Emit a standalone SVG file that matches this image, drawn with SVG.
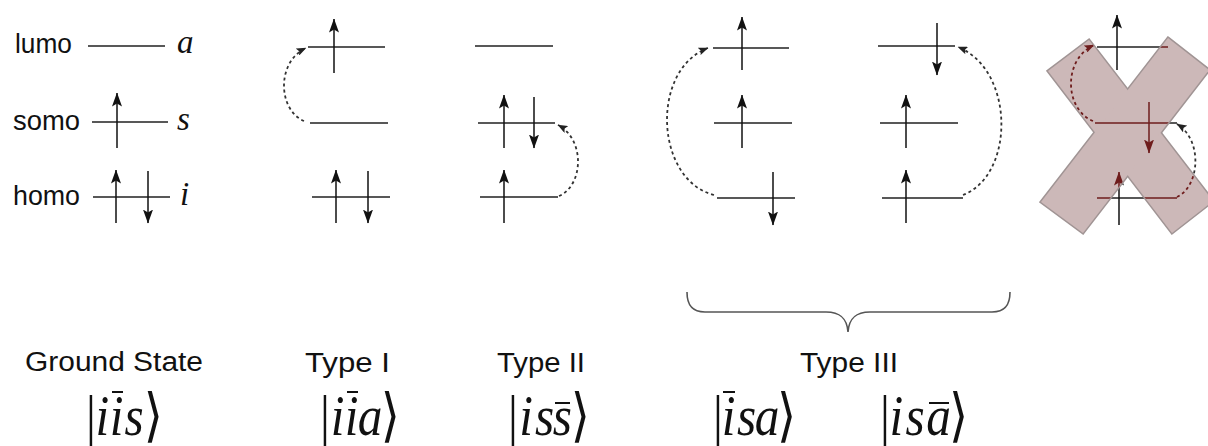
<svg xmlns="http://www.w3.org/2000/svg" width="1208" height="446" viewBox="0 0 1208 446">
<style>
.lvl{stroke:#222;stroke-width:1.4;fill:none}
.spin{stroke:#111;stroke-width:1.5;fill:none;marker-end:url(#ah)}
.hop{stroke:#333;stroke-width:1.8;stroke-dasharray:3 3;fill:none;marker-end:url(#dh)}
.mar .lvl{stroke:#6e1c1c}
.mar .spin{stroke:#6e1c1c;marker-end:url(#ahm)}
.mar .hop{stroke:#6e1c1c;marker-end:url(#dhm)}
.lab{font-family:"Liberation Sans",Arial,sans-serif;font-size:27px;fill:#111}
.orb{font-family:"Liberation Serif","Times New Roman",serif;font-style:italic;font-size:33px;fill:#111}
.ket{font-family:"Liberation Serif","DejaVu Serif","DejaVu Sans",serif;font-style:italic;font-size:58px;fill:#111}
.up{font-style:normal}
.bar{stroke:#111;stroke-width:2}
.brace{stroke:#555;stroke-width:1.6;fill:none}
.xfill{fill:#ccb8b8;stroke:none}
.xline{fill:none;stroke:#a09494;stroke-width:3}
</style>
<defs>
<marker id="ah" viewBox="0 0 14 10" refX="13.5" refY="5" markerWidth="14" markerHeight="10" orient="auto" markerUnits="userSpaceOnUse"><path d="M0,0 L14,5 L0,10 L3,5 Z" fill="#111"/></marker>
<marker id="ahm" viewBox="0 0 14 10" refX="13.5" refY="5" markerWidth="14" markerHeight="10" orient="auto" markerUnits="userSpaceOnUse"><path d="M0,0 L14,5 L0,10 L3,5 Z" fill="#6e1c1c"/></marker>
<marker id="dh" viewBox="0 0 10 8" refX="9.5" refY="4" markerWidth="10" markerHeight="8" orient="auto" markerUnits="userSpaceOnUse"><path d="M0,0 L10,4 L0,8 L2,4 Z" fill="#222"/></marker>
<marker id="dhm" viewBox="0 0 10 8" refX="9.5" refY="4" markerWidth="10" markerHeight="8" orient="auto" markerUnits="userSpaceOnUse"><path d="M0,0 L10,4 L0,8 L2,4 Z" fill="#6e1c1c"/></marker>
<clipPath id="xclip">
<polygon points="1048,71 1089,40 1213,201 1172,233"/>
<polygon points="1168,38 1209,70 1083,233 1041,202"/>
</clipPath>
</defs>

<g id="ground">
<text class="lab" x="15" y="53" textLength="57" lengthAdjust="spacingAndGlyphs">lumo</text>
<text class="lab" x="13" y="130" textLength="67" lengthAdjust="spacingAndGlyphs">somo</text>
<text class="lab" x="13" y="205" textLength="67" lengthAdjust="spacingAndGlyphs">homo</text>
<path class="lvl" d="M88,46 H165 M92,122 H168 M93,197 H170"/>
<text class="orb" x="177" y="53">a</text>
<text class="orb" x="177" y="130">s</text>
<text class="orb" x="180" y="205">i</text>
<line class="spin" x1="117" y1="148" x2="117" y2="93"/>
<line class="spin" x1="116" y1="223" x2="116" y2="170"/>
<line class="spin" x1="148" y1="171" x2="148" y2="223"/>
</g>

<g id="type1">
<path class="lvl" d="M308,47 H385 M310,123 H388 M312,197 H390"/>
<line class="spin" x1="334" y1="73" x2="334" y2="19"/>
<line class="spin" x1="336" y1="223" x2="336" y2="170"/>
<line class="spin" x1="368" y1="171" x2="368" y2="223"/>
</g>

<g id="type2">
<path class="lvl" d="M475,46 H553 M478,123 H555 M480,197 H558"/>
<line class="spin" x1="504" y1="148" x2="504" y2="95"/>
<line class="spin" x1="534" y1="97" x2="534" y2="148"/>
<line class="spin" x1="504" y1="223" x2="504" y2="170"/>
</g>

<g id="type3a">
<path class="lvl" d="M713,48 H789 M714,123 H792 M717,198 H795"/>
<line class="spin" x1="742" y1="70" x2="742" y2="17"/>
<line class="spin" x1="742" y1="148" x2="742" y2="95"/>
<line class="spin" x1="773" y1="172" x2="773" y2="225"/>
</g>

<g id="type3b">
<path class="lvl" d="M878,46 H955 M880,123 H958 M882,198 H963"/>
<line class="spin" x1="937" y1="23" x2="937" y2="75"/>
<line class="spin" x1="906" y1="148" x2="906" y2="95"/>
<line class="spin" x1="906" y1="223" x2="906" y2="170"/>
</g>

<g id="forbidden">
<g id="forbidden-levels">
<path class="lvl" d="M1097,47 H1168 M1095,123 H1177 M1097,198 H1177"/>
<line class="spin" x1="1117" y1="70" x2="1117" y2="15"/>
<line class="spin" x1="1149" y1="102" x2="1149" y2="153"/>
<line class="spin" x1="1119" y1="225" x2="1119" y2="172"/>
<path class="hop" d="M1093,121 C1065,110 1062,60 1094,45"/>
<path class="hop" d="M1177,197 C1200,186 1203,140 1177,124"/>
</g>
<g id="cross">
<polygon class="xline" points="1048,71 1089,40 1213,201 1172,233"/>
<polygon class="xline" points="1168,38 1209,70 1083,233 1041,202"/>
<polygon class="xfill" points="1048,71 1089,40 1213,201 1172,233"/>
<polygon class="xfill" points="1168,38 1209,70 1083,233 1041,202"/>
</g>
<g class="mar" clip-path="url(#xclip)">
<path class="lvl" d="M1097,47 H1168 M1095,123 H1177 M1097,198 H1177"/>
<line class="spin" x1="1117" y1="70" x2="1117" y2="15"/>
<line class="spin" x1="1149" y1="102" x2="1149" y2="153"/>
<line class="spin" x1="1119" y1="225" x2="1119" y2="172"/>
<path class="hop" d="M1093,121 C1065,110 1062,60 1094,45"/>
<path class="hop" d="M1177,197 C1200,186 1203,140 1177,124"/>
</g>
</g>

<g id="connectors">
<path class="hop" d="M304,121 C278,110 276,62 306,48"/>
<path class="hop" d="M559,196 C583,186 586,140 558,125"/>
<path class="hop" d="M714,195 C655,180 650,70 708,48"/>
<path class="hop" d="M963,195 C1015,175 1015,70 958,47"/>
</g>

<g id="brace">
<path class="brace" d="M687,292 C687,305 692,312 705,312 L826,312 C840,312 847,318 848,332 C849,318 856,312 870,312 L992,312 C1005,312 1010,305 1010,292"/>
</g>

<g id="labels">
<text class="lab" x="25" y="371" textLength="178" lengthAdjust="spacingAndGlyphs">Ground State</text>
<text class="lab" x="305" y="372" textLength="85" lengthAdjust="spacingAndGlyphs">Type I</text>
<text class="lab" x="497" y="372" textLength="88" lengthAdjust="spacingAndGlyphs">Type II</text>
<text class="lab" x="800" y="372" textLength="98" lengthAdjust="spacingAndGlyphs">Type III</text>
</g>

<g id="kets">
<text class="ket" text-anchor="middle" transform="translate(91,435) scale(0.85,1)"><tspan class="up" x="0">|</tspan><tspan x="13.5 30 50.6">iis</tspan><tspan class="up" x="73.5">⟩</tspan></text>
<line class="bar" x1="112" y1="392" x2="123" y2="392"/>
<text class="ket" text-anchor="middle" transform="translate(325,435) scale(0.85,1)"><tspan class="up" x="0">|</tspan><tspan x="14.7 31.2 52.9">iia</tspan><tspan class="up" x="77">⟩</tspan></text>
<line class="bar" x1="347" y1="392" x2="358" y2="392"/>
<text class="ket" text-anchor="middle" transform="translate(513,435) scale(0.85,1)"><tspan class="up" x="0">|</tspan><tspan x="15.3 37.1 58.2">iss</tspan><tspan class="up" x="79.4">⟩</tspan></text>
<line class="bar" x1="555" y1="403" x2="570" y2="403"/>
<text class="ket" text-anchor="middle" transform="translate(718,435) scale(0.85,1)"><tspan class="up" x="0">|</tspan><tspan x="12.4 33.5 57.6">isa</tspan><tspan class="up" x="80.6">⟩</tspan></text>
<line class="bar" x1="723" y1="392" x2="735" y2="392"/>
<text class="ket" text-anchor="middle" transform="translate(885,435) scale(0.85,1)"><tspan class="up" x="0">|</tspan><tspan x="13.5 35.3 62.9">isa</tspan><tspan class="up" x="86.5">⟩</tspan></text>
<line class="bar" x1="929" y1="403" x2="949" y2="403"/>
</g>
</svg>
